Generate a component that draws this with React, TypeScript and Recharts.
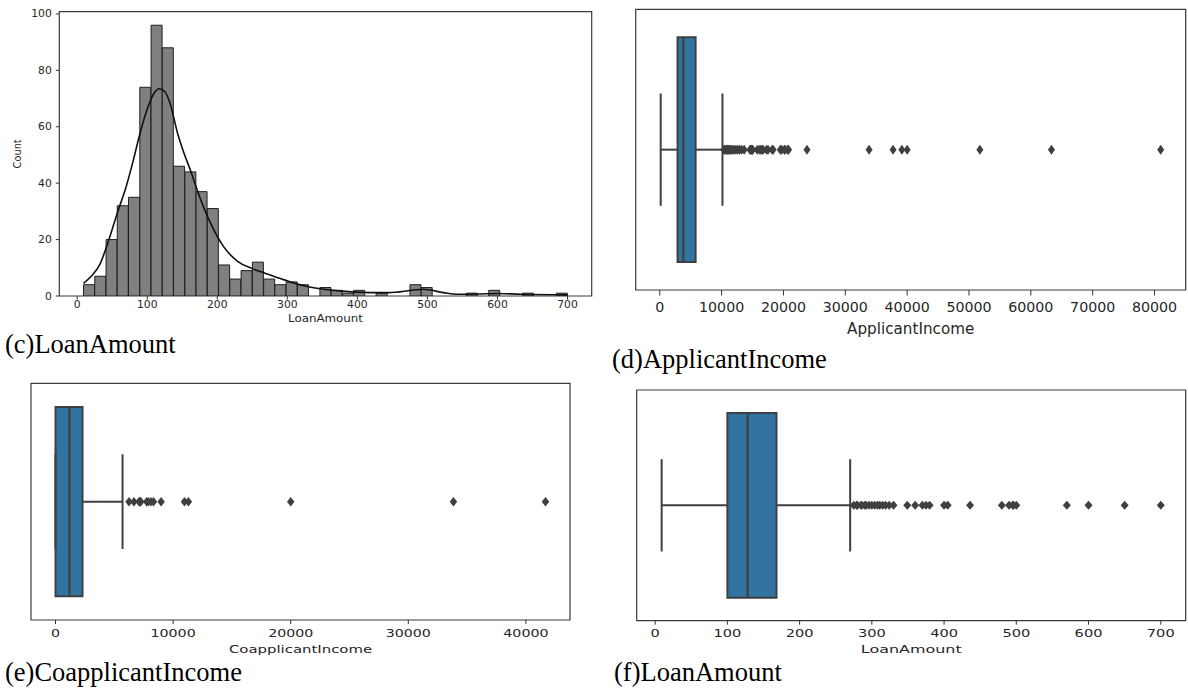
import React from 'react';
import { ComposedChart, Bar, Line, Scatter, XAxis, YAxis, ReferenceArea, ReferenceLine } from 'recharts';

// (c) LoanAmount histogram
const loanBinCenters = [
  17.0, 33.1, 49.2, 65.2, 81.3, 97.4, 113.5, 129.5, 145.6, 161.7, 177.7, 193.8, 209.9, 225.9, 242.0,
  258.1, 274.2, 290.2, 306.3, 322.4, 338.4, 354.5, 370.6, 386.6, 402.7, 418.8, 434.8, 450.9, 467.0,
  483.1, 499.1, 515.2, 531.3, 547.3, 563.4, 579.5, 595.5, 611.6, 627.7, 643.8, 659.8, 675.9, 692.0,
];
const loanBinCounts = [
  4, 7, 20, 32, 35, 74, 96, 88, 46, 44, 37, 31, 11, 6, 9,
  12, 6, 4, 5, 4, 0, 3, 2, 1, 2, 0, 1, 0, 0,
  4, 3, 0, 0, 0, 1, 0, 2, 0, 0, 1, 0, 0, 1,
];
const loanKdeX = [9, 20, 32, 44, 58, 69, 80, 89, 101, 110, 117, 125, 133, 143, 152, 161, 175, 190, 209, 229, 249, 269, 289, 309, 330, 370, 418, 445, 480, 494, 523, 542, 571, 600, 633, 700];
const loanKdeY = [4.5, 7, 11, 19, 30, 38, 48, 57, 67, 72, 73.5, 72.5, 68, 58, 51, 45, 35, 26, 17.5, 12.3, 9.8, 8, 6.3, 4.6, 3.3, 1.9, 1.2, 1.2, 2.1, 2.4, 1.2, 0.6, 0.7, 0.9, 0.6, 0.4];
const histXTicks = [0, 100, 200, 300, 400, 500, 600, 700];
const histYTicks = [0, 20, 40, 60, 80, 100];

// (d) ApplicantIncome box: [whisker low, q1, median, q3, whisker high]
const applicantStats = [150, 2877.5, 3812.5, 5795, 10139];
const applicantOutliers = [
  10408, 10416, 10513, 10750, 10833, 10890, 11000, 11146, 11250, 11417, 11500, 11757, 12000, 12173,
  12500, 12841, 12876, 13262, 13650, 14583, 14683, 14866, 14880, 14999, 15000, 15759, 16120, 16250,
  16525, 16666, 16692, 17263, 17500, 18165, 18333, 19484, 19730, 20166, 20233, 20667, 20833, 23803,
  33846, 37719, 39147, 39999, 51763, 63337, 81000,
];
const applicantTicks = [0, 10000, 20000, 30000, 40000, 50000, 60000, 70000, 80000];

// (e) CoapplicantIncome box
const coapplicantStats = [0, 0, 1188.5, 2297.25, 5701];
const coapplicantOutliers = [6250, 6666, 7101, 7166, 7210, 7250, 7750, 7873, 8106, 8333, 8980, 10968, 11300, 20000, 33837, 41667];
const coapplicantTicks = [0, 10000, 20000, 30000, 40000];

// (f) LoanAmount box
const loanStats = [9, 100, 128, 168, 270];
const loanOutliers = [275, 279, 280, 285, 286, 290, 292, 296, 300, 304, 308, 311, 315, 319, 324, 330, 349, 360, 370, 375, 380, 400, 405, 436, 480, 490, 495, 496, 500, 570, 600, 650, 700];
const loanTicks = [0, 100, 200, 300, 400, 500, 600, 700];

const BLUE = '#3274a1';
const GRAY = '#3f3f3f';
const INK = '#262626';
const SANS = 'DejaVu Sans';

const histData = loanBinCenters.map((c, i) => ({ center: c, count: loanBinCounts[i] }));
const kdeData = loanKdeX.map((x, i) => ({ x, y: loanKdeY[i] }));

// matplotlib text in these panels is stretched sideways, so scale it
const makeTick = (size: number, sx: number, anchor: 'middle' | 'end' = 'middle') => (props: any) => {
  const { x, y, payload } = props;
  return (
    <text
      transform={`translate(${x},${y}) scale(${sx},1)`}
      textAnchor={anchor}
      dy={anchor === 'middle' ? '0.71em' : '0.36em'}
      fontSize={size}
      fontFamily={SANS}
      fill={INK}
    >
      {payload.value}
    </text>
  );
};

const AxisTitle = (props: any) => {
  const { viewBox, text, size, sx, dy, dx = 0, rotate = false } = props;
  if (!viewBox) return null;
  const cx = rotate ? viewBox.x + dx : viewBox.x + viewBox.width / 2;
  const cy = rotate ? viewBox.y + viewBox.height / 2 : viewBox.y + dy;
  return (
    <text
      transform={`translate(${cx},${cy}) scale(${sx},1)${rotate ? ' rotate(-90)' : ''}`}
      textAnchor="middle"
      dy={rotate ? '0.36em' : 0}
      fontSize={size}
      fontFamily={SANS}
      fill={INK}
    >
      {text}
    </text>
  );
};

const diamond = (w: number, h: number) => (props: any) => {
  const { cx, cy } = props;
  return <path d={`M${cx},${cy - h / 2}L${cx + w / 2},${cy}L${cx},${cy + h / 2}L${cx - w / 2},${cy}Z`} fill={GRAY} />;
};

const HistPanel = () => (
  <div style={{ position: 'absolute', left: 0, top: 0 }}>
    <ComposedChart width={600} height={340} data={histData} margin={{ top: 11.7, right: 8.3, left: 0, bottom: 0 }} barCategoryGap={0} barGap={0}>
      <XAxis
        type="number"
        dataKey="center"
        domain={[-25.55, 734.55]}
        ticks={histXTicks}
        allowDataOverflow
        interval={0}
        axisLine={false}
        tickLine={{ stroke: '#333' }}
        tickSize={3.5}
        tickMargin={2}
        height={44}
        tick={makeTick(9.8, 1.1)}
        label={<AxisTitle text="LoanAmount" size={10.5} sx={1.13} dy={26} />}
      />
      <XAxis xAxisId="kde" type="number" dataKey="x" domain={[-25.55, 734.55]} allowDataOverflow hide />
      <YAxis
        type="number"
        domain={[0, 100.8]}
        ticks={histYTicks}
        allowDataOverflow
        interval={0}
        axisLine={false}
        tickLine={{ stroke: '#333' }}
        tickSize={3.5}
        tickMargin={4}
        width={59.3}
        tick={makeTick(9.8, 1.1, 'end')}
        label={<AxisTitle text="Count" size={9.8} sx={1.0} rotate dx={17.5} />}
      />
      <Bar dataKey="count" fill="#808080" stroke="#1e1e1e" strokeWidth={1} isAnimationActive={false} />
      <Line xAxisId="kde" data={kdeData} dataKey="y" type="monotone" stroke="#111" strokeWidth={1.6} dot={false} isAnimationActive={false} />
      <ReferenceArea x1={-25.55} x2={734.55} y1={0} y2={100.8} fill="none" stroke="#3a3a3a" strokeWidth={1.2} />
    </ComposedChart>
  </div>
);

interface BoxProps {
  left: number;
  top: number;
  width: number;
  height: number;
  margin: { top: number; right: number; left: number; bottom: number };
  yWidth: number;
  xHeight: number;
  domain: [number, number];
  ticks: number[];
  stats: number[];
  outliers: number[];
  title: string;
  tickFont: number;
  tickSx: number;
  titleFont: number;
  titleSx: number;
  titleDy: number;
  tickLen: number;
  tickGap: number;
  dW: number;
  dH: number;
}

const BoxPanel = (p: BoxProps) => {
  const [lo, q1, med, q3, hi] = p.stats;
  const pts = p.outliers.map((v) => ({ x: v, y: 0 }));
  return (
    <div style={{ position: 'absolute', left: p.left, top: p.top }}>
      <ComposedChart width={p.width} height={p.height} margin={p.margin}>
        <XAxis
          type="number"
          dataKey="x"
          domain={p.domain}
          ticks={p.ticks}
          allowDataOverflow
          interval={0}
          axisLine={false}
          tickLine={{ stroke: '#333' }}
          tickSize={p.tickLen}
          tickMargin={p.tickGap}
          height={p.xHeight}
          tick={makeTick(p.tickFont, p.tickSx)}
          label={<AxisTitle text={p.title} size={p.titleFont} sx={p.titleSx} dy={p.titleDy} />}
        />
        <YAxis
          type="number"
          dataKey="y"
          domain={[-0.5, 0.5]}
          ticks={[0]}
          allowDataOverflow
          axisLine={false}
          tick={false}
          tickLine={{ stroke: '#333' }}
          tickSize={5}
          width={p.yWidth}
        />
        <ReferenceLine segment={[{ x: lo, y: 0 }, { x: q1, y: 0 }]} stroke={GRAY} strokeWidth={2} />
        <ReferenceLine segment={[{ x: q3, y: 0 }, { x: hi, y: 0 }]} stroke={GRAY} strokeWidth={2} />
        <ReferenceLine segment={[{ x: lo, y: -0.2 }, { x: lo, y: 0.2 }]} stroke={GRAY} strokeWidth={2} />
        <ReferenceLine segment={[{ x: hi, y: -0.2 }, { x: hi, y: 0.2 }]} stroke={GRAY} strokeWidth={2} />
        <ReferenceArea x1={q1} x2={q3} y1={-0.4} y2={0.4} fill={BLUE} fillOpacity={1} stroke={GRAY} strokeWidth={2} />
        <ReferenceLine segment={[{ x: med, y: -0.4 }, { x: med, y: 0.4 }]} stroke={GRAY} strokeWidth={2.2} />
        <Scatter data={pts} shape={diamond(p.dW, p.dH)} isAnimationActive={false} />
        <ReferenceArea x1={p.domain[0]} x2={p.domain[1]} y1={-0.5} y2={0.5} fill="none" stroke="#3a3a3a" strokeWidth={1.2} />
      </ComposedChart>
    </div>
  );
};

const captionStyle: React.CSSProperties = {
  position: 'absolute',
  fontFamily: '"Liberation Serif", "Times New Roman", serif',
  fontSize: 26.5,
  lineHeight: '26.5px',
  color: '#000',
  whiteSpace: 'nowrap',
};

export default function App() {
  return (
    <div style={{ position: 'absolute', left: 0, top: 0, width: 1188, height: 695, background: '#fff', overflow: 'hidden' }}>
      <HistPanel />
      <BoxPanel
        left={600}
        top={0}
        width={588}
        height={340}
        margin={{ top: 9.3, right: 2.3, left: 0, bottom: 0 }}
        yWidth={35.7}
        xHeight={50}
        domain={[-3892.5, 85042.5]}
        ticks={applicantTicks}
        stats={applicantStats}
        outliers={applicantOutliers}
        title="ApplicantIncome"
        tickFont={14.2}
        tickSx={1.0}
        titleFont={15.2}
        titleSx={1.0}
        titleDy={44}
        tickLen={5.5}
        tickGap={6}
        dW={7}
        dH={10}
      />
      <BoxPanel
        left={0}
        top={370}
        width={600}
        height={300}
        margin={{ top: 13.3, right: 30, left: 0, bottom: 0 }}
        yWidth={31}
        xHeight={50}
        domain={[-2083.35, 43750.35]}
        ticks={coapplicantTicks}
        stats={coapplicantStats}
        outliers={coapplicantOutliers}
        title="CoapplicantIncome"
        tickFont={10}
        tickSx={1.42}
        titleFont={10.8}
        titleSx={1.38}
        titleDy={32.5}
        tickLen={4}
        tickGap={6}
        dW={7.5}
        dH={9.5}
      />
      <BoxPanel
        left={600}
        top={370}
        width={588}
        height={300}
        margin={{ top: 20, right: 2.3, left: 0, bottom: 0 }}
        yWidth={36.7}
        xHeight={49.3}
        domain={[-25.55, 734.55]}
        ticks={loanTicks}
        stats={loanStats}
        outliers={loanOutliers}
        title="LoanAmount"
        tickFont={10}
        tickSx={1.46}
        titleFont={11}
        titleSx={1.45}
        titleDy={32}
        tickLen={4}
        tickGap={5}
        dW={8}
        dH={9}
      />
      <div style={{ ...captionStyle, left: 5, top: 353 - 22.2 }}>(c)LoanAmount</div>
      <div style={{ ...captionStyle, left: 612, top: 368 - 22.2 }}>(d)ApplicantIncome</div>
      <div style={{ ...captionStyle, left: 5, top: 681 - 22.2 }}>(e)CoapplicantIncome</div>
      <div style={{ ...captionStyle, left: 614, top: 681 - 22.2 }}>(f)LoanAmount</div>
    </div>
  );
}
